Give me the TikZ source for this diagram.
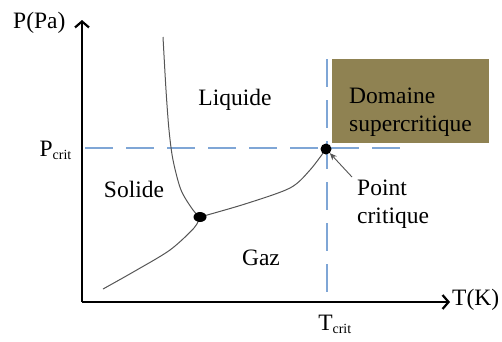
\documentclass[tikz,border=0pt]{standalone}
\usepackage{fontspec}
\setmainfont{Liberation Serif}
\usetikzlibrary{arrows.meta,shapes.geometric}
\definecolor{olivebox}{RGB}{143,130,82}
\definecolor{dashblue}{RGB}{127,166,214}
\definecolor{curvegray}{RGB}{85,85,85}
\begin{document}
\begin{tikzpicture}[x=1pt,y=-1pt,
  lbl/.style={font=\fontsize{23.5}{28}\selectfont, inner sep=0pt},
  axisline/.style={line width=2.8pt, -{Straight Barb[length=6pt,width=14pt,line width=2.2pt]}},
  guide/.style={dashblue, line width=1.1pt, dash pattern=on 28pt off 13pt},
  phase/.style={curvegray, line width=1pt},
  dotpt/.style={fill=black, inner sep=0pt}]
\useasboundingbox (0,0) rectangle (502,341);
% box
\coordinate (boxnw) at (332,59);
\coordinate (boxse) at (489,143);
\fill[olivebox] (boxnw) rectangle (boxse);
\node[lbl, anchor=base west] (dom) at (349,103) {Domaine};
\node[lbl, anchor=base west] (sup) at (349,131) {supercritique};
% guides
\coordinate (hstart) at (85,148);
\coordinate (hend) at (404,148);
\coordinate (vstart) at (327,59);
\coordinate (vend) at (327,300);
\draw[guide] (hstart) -- (hend);
\draw[guide] (vstart) -- (vend);
% axes
\coordinate (origin) at (82,302);
\coordinate (ytip) at (82,20);
\coordinate (xtip) at (450,302);
\draw[axisline] (origin) -- (ytip);
\draw[axisline] (origin) -- (xtip);
\node[lbl, anchor=base west] (plab) at (13,28) {P(Pa)};
\node[lbl, anchor=west] (tlab) at (452,300) {T(K)};
\node[lbl, anchor=base east] (pcrit) at (72,156) {P\textsubscript{\fontsize{14}{16}\selectfont crit}};
\node[lbl, anchor=base] (tcrit) at (335,330) {T\textsubscript{\fontsize{14}{16}\selectfont crit}};
% phase curves
\coordinate (tp) at (200,217);
\coordinate (cp) at (326,149);
\draw[phase] plot[smooth, tension=0.5] coordinates {(163,37) (166,90) (169,130) (173,160) (181,190) (193,210) (tp)};
\draw[phase] plot[smooth, tension=0.5] coordinates {(tp) (245,204) (290,188) (310,170) (cp)};
\draw[phase] plot[smooth, tension=0.5] coordinates {(tp) (194,228) (170,250) (135,271) (103,289)};
\node[dotpt, ellipse, minimum width=13pt, minimum height=10pt] (tpdot) at (tp) {};
\node[dotpt, circle, minimum size=11pt] (cpdot) at (cp) {};
% labels
\node[lbl] (liq) at (235,100) {Liquide};
\node[lbl] (sol) at (134,189) {Solide};
\node[lbl] (gaz) at (261,258) {Gaz};
\node[lbl, anchor=base west] (pt1) at (357,195) {Point};
\node[lbl, anchor=base west] (pt2) at (357,223) {critique};
\coordinate (arrstart) at (352,177);
\draw[curvegray, line width=0.9pt, -{Stealth[length=7pt,width=6pt]}] (arrstart) -- (cpdot);
\end{tikzpicture}
\end{document}
